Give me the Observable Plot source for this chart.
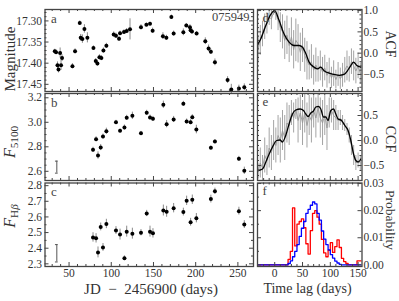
<!DOCTYPE html>
<html><head><meta charset="utf-8">
<script src="https://cdn.jsdelivr.net/npm/d3@7"></script>
<script src="https://cdn.jsdelivr.net/npm/@observablehq/plot@0.6"></script>
<style>
body{margin:0;background:#fff;}
#chart{position:relative;width:399px;height:301px;overflow:hidden;font-family:"Liberation Serif",serif;color:#333;}
#chart svg{position:absolute;left:0;top:0;}
.lab{position:absolute;white-space:nowrap;line-height:1;font-family:"Liberation Serif",serif;color:#333;}
.lab sub{font-size:70%;vertical-align:-0.25em;}
</style></head><body><div id="chart"></div>
<script>
// ---------- data ----------
const jdA = [33.1,34.6,36.3,37.5,39.4,40.5,41.7,54,57.1,62.7,63.8,65.8,68.2,71.7,78.9,81.6,83.6,86,88.3,90.7,94.2,102.9,105.6,109.2,110.4,115.1,118.3,122.2,135.2,141.6,145.9,149,161.2,165.3,171.2,173.9,185.4,188.9,193.2,194,195.6,201.1,211.4,215.3,218,222.8,237.8,242.2,251.2,257.6];
const magA = [17.372,17.374,17.405,17.415,17.376,17.405,17.388,17.407,17.372,17.305,17.340,17.343,17.319,17.340,17.364,17.395,17.401,17.386,17.388,17.370,17.359,17.332,17.335,17.342,17.329,17.326,17.324,17.320,17.315,17.309,17.307,17.323,17.336,17.340,17.291,17.330,17.327,17.311,17.315,17.322,17.325,17.330,17.348,17.365,17.373,17.398,17.440,17.462,17.460,17.457];
const errA = [0.005,0.005,0.008,0.008,0.012,0.012,0.008,0.006,0.006,0.005,0.008,0.010,0.010,0.012,0.005,0.006,0.006,0.006,0.006,0.006,0.006,0.006,0.006,0.006,0.005,0.005,0.006,0.025,0.006,0.004,0.004,0.006,0.008,0.006,0.005,0.006,0.008,0.005,0.006,0.006,0.006,0.005,0.008,0.008,0.006,0.008,0.008,0.012,0.008,0.008];

const jdS = [78.4,82,84.3,87.5,90.2,94.2,105.6,110.4,115.6,118.3,125,135.2,142,145.9,149.4,161.7,165.6,173.9,185.4,189.3,194,196,200.8,218,222.8,251.2,257.6];
const f5100 = [2.776,2.862,2.729,2.794,2.884,2.927,3.001,2.930,2.958,3.037,3.053,2.911,3.078,3.039,3.028,3.143,2.985,3.023,3.151,3.007,3.001,3.042,2.941,2.792,2.843,2.702,2.604];
const e5100 = [0.02,0.02,0.03,0.025,0.02,0.025,0.015,0.015,0.02,0.02,0.03,0.015,0.02,0.02,0.02,0.03,0.03,0.025,0.02,0.02,0.02,0.02,0.035,0.015,0.015,0.02,0.03];
const fHb = [2.469,2.463,2.373,2.536,2.405,2.555,2.513,2.487,2.336,2.506,2.493,2.499,2.622,2.506,2.495,2.641,2.633,2.656,2.631,2.703,2.566,2.710,2.592,2.714,2.764,2.637,2.551];
const eHb = [0.03,0.03,0.035,0.025,0.025,0.03,0.025,0.035,0.015,0.035,0.035,0.02,0.02,0.035,0.03,0.035,0.035,0.03,0.025,0.03,0.025,0.03,0.03,0.025,0.02,0.025,0.025];
// typical error bars ("I" symbols)
const sysB = {jd: 35.5, lo: 2.585, hi: 2.683};
const sysC = {jd: 35.5, lo: 2.312, hi: 2.423};

// ACF (smooth line)
const lagAcf = [-30,-25,-16,-8.5,0,7.8,16.8,25.8,34.8,43.8,50,55.9,61.8,70.8,77,82.9,88.8,97.8,106.8,115.9,124.9,131,136.9,141.8,147.7,155];
const acf = [0.22,0.34,0.65,0.88,1.0,0.77,0.45,0.26,0.18,0.18,0.14,-0.01,-0.21,-0.33,-0.37,-0.33,-0.41,-0.47,-0.50,-0.52,-0.50,-0.41,-0.29,-0.21,-0.29,-0.33];
// ACF (gray, with errors)
const lagAcfG = [-30,-26,-22,-18,-14,-10,-6,-2,2,6,10,14,18,22,26,30,34,38,42,46,50,54,58,62,66,70,74,78,82,86,90,94,98,102,106,110,114,118,122,126,130,134,138,142,146,150,154];
const acfG = [0.10,0.30,0.45,0.62,0.70,0.85,0.80,0.97,0.92,0.78,0.60,0.50,0.30,0.42,0.18,0.38,0.08,0.30,0.22,0.02,0.18,-0.05,-0.18,-0.28,-0.20,-0.40,-0.28,-0.38,-0.30,-0.45,-0.35,-0.52,-0.42,-0.58,-0.48,-0.62,-0.50,-0.60,-0.52,-0.40,-0.30,-0.38,-0.20,-0.30,-0.42,-0.30,-0.48];
const acfGe = [0.30,0.35,0.30,0.30,0.25,0.20,0.25,0.08,0.15,0.25,0.35,0.40,0.45,0.45,0.40,0.45,0.45,0.50,0.45,0.45,0.40,0.40,0.45,0.35,0.40,0.35,0.40,0.30,0.35,0.35,0.30,0.30,0.30,0.25,0.30,0.22,0.28,0.25,0.28,0.30,0.35,0.30,0.30,0.35,0.30,0.30,0.25];

// CCF (smooth line)
const lagCcf = [-30,-22,-16,-10,-4,3.6,9.6,13.8,19.8,25.8,31.9,37.8,45.6,51.7,55.9,60,64.9,69.7,73.9,78.7,82.9,87.7,91.9,96,100.9,105.8,109.9,114,120.2,126.1,132,136.9,141.8,146,150,155];
const ccf = [-0.60,-0.57,-0.43,-0.27,-0.13,0.0,0.01,-0.03,0.10,0.33,0.53,0.61,0.63,0.60,0.53,0.48,0.55,0.59,0.67,0.68,0.63,0.47,0.47,0.40,0.60,0.63,0.53,0.43,0.40,0.30,0.20,0.0,-0.27,-0.40,-0.43,-0.37];
// CCF (gray, with errors)
const lagCcfG = [-30,-26,-22,-18,-14,-10,-6,-2,2,6,10,14,18,22,26,30,34,38,42,46,50,54,58,62,66,70,74,78,82,86,90,94,98,102,106,110,114,118,122,126,130,134,138,142,146,150,154];
const ccfG = [-0.62,-0.45,-0.55,-0.30,-0.40,-0.15,-0.25,0.00,-0.10,0.10,0.00,0.20,0.05,0.35,0.30,0.55,0.45,0.62,0.40,0.55,0.35,0.55,0.30,0.50,0.40,0.60,0.45,0.65,0.45,0.35,0.50,0.25,0.55,0.60,0.50,0.45,0.40,0.45,0.35,0.30,0.22,0.10,-0.10,-0.30,-0.45,-0.40,-0.45];
const ccfGe = [0.15,0.30,0.25,0.35,0.30,0.40,0.35,0.40,0.35,0.40,0.45,0.40,0.45,0.40,0.40,0.25,0.30,0.20,0.45,0.35,0.45,0.40,0.45,0.40,0.45,0.35,0.40,0.30,0.40,0.45,0.40,0.45,0.30,0.25,0.30,0.25,0.20,0.15,0.15,0.12,0.12,0.15,0.20,0.20,0.15,0.15,0.15];

// Lag distributions (bin start, probability)
const binLag = [-32,20,24,28,32,36,40,44,48,52,56,60,64,68,72,76,80,84,88,92,96,100,104,108,112,116,120,124,128,132,136,140,144,148,152,156];
const probRed = [0,0,0.002,0.005,0.021,0.007,0.015,0.016,0.017,0.0137,0.0078,0.004,0.0126,0.019,0.020,0.0176,0.015,0.0094,0.0044,0.003,0.0054,0.0082,0.0046,0.0067,0.0092,0.0064,0.0024,0.0012,0.0005,0,0,0,0,0.0015,0.0015,0.0015];
const probBlue = [0,0,0.0005,0.0015,0.003,0.005,0.0075,0.0105,0.0135,0.016,0.019,0.0205,0.022,0.0232,0.0225,0.019,0.0165,0.0125,0.0095,0.0075,0.0055,0.0038,0.0025,0.0014,0.0007,0.0002,0,0,0,0,0,0,0,0,0,0];

// tick values
const jdMajor = [50,100,150,200,250];
const jdMinor = [30,40,60,70,80,90,110,120,130,140,160,170,180,190,210,220,230,240,260];
const magMajor = [17.30,17.35,17.40,17.45];
const magMinor = [17.28,17.29,17.31,17.32,17.33,17.34,17.36,17.37,17.38,17.39,17.41,17.42,17.43,17.44,17.46];
const f5Major = [2.6,2.8,3.0,3.2];
const f5Minor = [2.55,2.65,2.7,2.75,2.85,2.9,2.95,3.05,3.1,3.15];
const hbMajor = [2.3,2.4,2.5,2.6,2.7,2.8];
const hbMinor = [2.35,2.45,2.55,2.65,2.75];
const lagMajor = [0,50,100,150];
const lagMinor = [-20,-10,10,20,30,40,60,70,80,90,110,120,130,140];
const acfMajor = [-0.5,0,0.5,1.0];
const acfMinor = [-0.8,-0.7,-0.6,-0.4,-0.3,-0.2,-0.1,0.1,0.2,0.3,0.4,0.6,0.7,0.8,0.9];
const ccfMajor = [-0.5,0,0.5];
const ccfMinor = [-0.7,-0.6,-0.4,-0.3,-0.2,-0.1,0.1,0.2,0.3,0.4,0.6,0.7,0.8,0.9];
const prMajor = [0,0.01,0.02,0.03];
const prMinor = [0.005,0.015,0.025];

// ---------- build ----------
const tA = jdA.map((x,i)=>({x, y: magA[i], e: errA[i]}));
const tB = jdS.map((x,i)=>({x, y: f5100[i], e: e5100[i]}));
const tC = jdS.map((x,i)=>({x, y: fHb[i], e: eHb[i]}));
const tAcf = lagAcf.map((x,i)=>({x, y: acf[i]}));
const tAcfG = lagAcfG.map((x,i)=>({x, y: acfG[i], e: acfGe[i]}));
const tCcf = lagCcf.map((x,i)=>({x, y: ccf[i]}));
const tCcfG = lagCcfG.map((x,i)=>({x, y: ccfG[i], e: ccfGe[i]}));
const tRed = binLag.map((x,i)=>({x, y: probRed[i]}));
const tBlue = binLag.map((x,i)=>({x, y: probBlue[i]}));

const C = "#444";
const colL = {x0: 44.5, x1: 253};
const colR = {x0: 257, x1: 361.5};
const rows = [{y0: 9, y1: 91}, {y0: 93, y1: 180}, {y0: 182.5, y1: 266}];

function frameTicks(xMaj, xMin, yMaj, yMin, iw, ih) {
  const M = 4, m = 2;
  return [
    Plot.tickX(xMaj, {x: d=>d, insetTop: ih-M, stroke: C}),
    Plot.tickX(xMaj, {x: d=>d, insetBottom: ih-M, stroke: C}),
    Plot.tickX(xMin, {x: d=>d, insetTop: ih-m, stroke: C}),
    Plot.tickX(xMin, {x: d=>d, insetBottom: ih-m, stroke: C}),
    Plot.tickY(yMaj, {y: d=>d, insetRight: iw-M, stroke: C}),
    Plot.tickY(yMaj, {y: d=>d, insetLeft: iw-M, stroke: C}),
    Plot.tickY(yMin, {y: d=>d, insetRight: iw-m, stroke: C}),
    Plot.tickY(yMin, {y: d=>d, insetLeft: iw-m, stroke: C}),
    Plot.frame({stroke: C, strokeWidth: 1.3})
  ];
}

function panel(col, row, o) {
  const iw = col.x1 - col.x0, ih = row.y1 - row.y0;
  const marks = [...o.marks, ...frameTicks(o.xMaj, o.xMin, o.yMaj, o.yMin, iw, ih)];
  marks.push(Plot.axisY({anchor: o.yAnchor, ticks: o.yMaj, tickSize: 0, tickPadding: o.yAnchor === "right" ? 1.5 : 3, tickFormat: d3.format(o.yFmt), label: null, fill: "#333"}));
  if (o.xLabels) marks.push(Plot.axisX({anchor: "bottom", ticks: o.xMaj, tickSize: 0, tickPadding: 2, tickFormat: d3.format("d"), label: null, fill: "#333"}));
  return Plot.plot({
    width: 399, height: 301,
    marginLeft: col.x0, marginRight: 399 - col.x1, marginTop: row.y0, marginBottom: 301 - row.y1,
    x: {domain: o.xd, axis: null},
    y: {domain: o.yd, reverse: !!o.rev, axis: null},
    style: {background: "transparent", overflow: "visible", fontFamily: "Liberation Serif, serif", fontSize: "11.5px"},
    marks
  });
}

function lcPoints(t, label) {
  return [
    Plot.ruleX(t, {x: "x", y1: d=>d.y-d.e, y2: d=>d.y+d.e, stroke: "#8a8a8a", strokeWidth: 1}),
    Plot.dot(t, {x: "x", y: "y", r: 2, fill: "black", stroke: "none"}),
    Plot.text([label], {frameAnchor: "top-left", dx: 6, dy: 4, fontSize: 13, fill: C})
  ];
}
function sysBar(s) {
  return [
    Plot.ruleX([s], {x: "jd", y1: "lo", y2: "hi", stroke: "#555", strokeWidth: 1}),
    Plot.ruleY([s], {y: "lo", x1: d=>d.jd-1.6, x2: d=>d.jd+1.6, stroke: "#555"}),
    Plot.ruleY([s], {y: "hi", x1: d=>d.jd-1.6, x2: d=>d.jd+1.6, stroke: "#555"})
  ];
}

const xdL = [21.5, 268.5], xdR = [-31, 157];
const chart = document.getElementById("chart");

chart.append(panel(colL, rows[0], {
  xd: xdL, yd: [17.273, 17.467], rev: true, yAnchor: "left", yFmt: ".2f",
  xMaj: jdMajor, xMin: jdMinor, yMaj: magMajor, yMin: magMinor,
  marks: [...lcPoints(tA, "a"),
    Plot.text(["075949"], {frameAnchor: "top-right", dx: -4, dy: 3, fontSize: 12.5, fill: C})]
}));
chart.append(panel(colL, rows[1], {
  xd: xdL, yd: [2.525, 3.235], yAnchor: "left", yFmt: ".1f",
  xMaj: jdMajor, xMin: jdMinor, yMaj: f5Major, yMin: f5Minor,
  marks: [...lcPoints(tB, "b"), ...sysBar(sysB)]
}));
chart.append(panel(colL, rows[2], {
  xd: xdL, yd: [2.283, 2.817], yAnchor: "left", yFmt: ".1f", xLabels: true,
  xMaj: jdMajor, xMin: jdMinor, yMaj: hbMajor, yMin: hbMinor,
  marks: [...lcPoints(tC, "c"), ...sysBar(sysC)]
}));

chart.append(panel(colR, rows[0], {
  xd: xdR, yd: [-0.9, 1.025], yAnchor: "right", yFmt: ".1f",
  xMaj: lagMajor, xMin: lagMinor, yMaj: acfMajor, yMin: acfMinor,
  marks: [
    Plot.ruleX(tAcfG, {x: "x", y1: d=>d.y-d.e, y2: d=>d.y+d.e, stroke: "#9a9a9a", strokeWidth: 0.9, clip: true}),
    Plot.line(tAcfG, {x: "x", y: "y", stroke: "#9a9a9a", strokeWidth: 0.9, clip: true}),
    Plot.line(tAcf, {x: "x", y: "y", stroke: "black", strokeWidth: 1.3, curve: "monotone-x", clip: true}),
    Plot.text(["d"], {frameAnchor: "top-left", dx: 5, dy: 3, fontSize: 13, fill: C})
  ]
}));
chart.append(panel(colR, rows[1], {
  xd: xdR, yd: [-0.8, 0.94], yAnchor: "right", yFmt: ".1f",
  xMaj: lagMajor, xMin: lagMinor, yMaj: ccfMajor, yMin: ccfMinor,
  marks: [
    Plot.ruleX(tCcfG, {x: "x", y1: d=>d.y-d.e, y2: d=>d.y+d.e, stroke: "#9a9a9a", strokeWidth: 0.9, clip: true}),
    Plot.line(tCcfG, {x: "x", y: "y", stroke: "#9a9a9a", strokeWidth: 0.9, clip: true}),
    Plot.line(tCcf, {x: "x", y: "y", stroke: "black", strokeWidth: 1.3, curve: "monotone-x", clip: true}),
    Plot.text(["e"], {frameAnchor: "top-left", dx: 5, dy: 3, fontSize: 13, fill: C})
  ]
}));
chart.append(panel(colR, rows[2], {
  xd: xdR, yd: [-0.0006, 0.0302], yAnchor: "right", yFmt: ".2f", xLabels: true,
  xMaj: lagMajor, xMin: lagMinor, yMaj: prMajor, yMin: prMinor,
  marks: [
    Plot.line(tRed, {x: "x", y: "y", stroke: "red", strokeWidth: 1.3, curve: "step-after", clip: true}),
    Plot.line(tBlue, {x: "x", y: "y", stroke: "blue", strokeWidth: 1.3, curve: "step-after", clip: true}),
    Plot.text(["f"], {frameAnchor: "top-left", dx: 5, dy: 3, fontSize: 13, fill: C})
  ]
}));

// axis titles (HTML text)
function label(html, cx, cy, rot, size) {
  const d = document.createElement("div");
  d.className = "lab";
  d.innerHTML = html;
  d.style.left = cx + "px"; d.style.top = cy + "px";
  d.style.fontSize = size + "px";
  d.style.transform = `translate(-50%,-50%) rotate(${rot}deg)`;
  chart.append(d);
}
label("Magnitude", 9.5, 59, -90, 15);
label("<i>F</i><sub>5100</sub>", 11, 142, -90, 16);
label("<i>F</i><sub>H<i>β</i></sub>", 11, 216, -90, 16);
label("JD &nbsp;−&nbsp; 2456900 (days)", 151, 289, 0, 15);
label("Time lag (days)", 307.5, 289, 0, 14);
label("ACF", 390, 44, 90, 14);
label("CCF", 390, 139, 90, 14);
label("Probability", 390, 220, 90, 13.5);
</script></body></html>
